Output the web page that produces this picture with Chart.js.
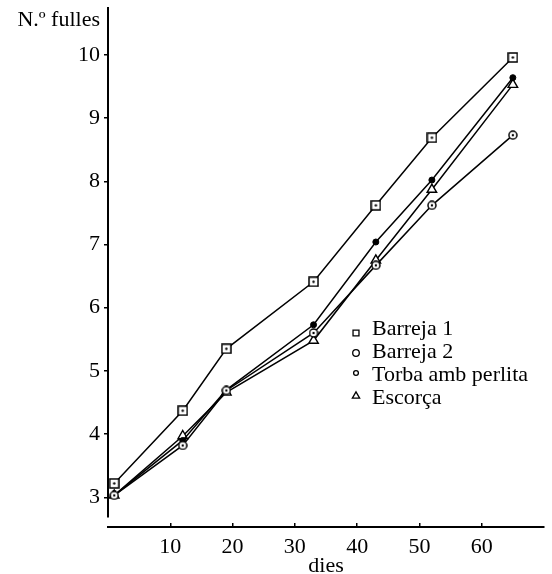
<!DOCTYPE html>
<html>
<head>
<meta charset="utf-8">
<script src="https://cdn.jsdelivr.net/npm/chart.js@4/dist/chart.umd.min.js"></script>
<style>
  html, body { margin: 0; padding: 0; background: #ffffff; }
  #wrap { width: 552px; height: 574px; position: relative; }
</style>
</head>
<body>
<div id="wrap"><canvas id="c" width="552" height="574"></canvas></div>
<script>
// ---- data ----
const days = [1, 12, 19, 33, 43, 52, 65];
const barreja1 = [3.22, 4.37, 5.35, 6.41, 7.62, 8.69, 9.96];
const barreja2 = [3.03, 3.82, 4.69, 5.60, 6.67, 7.62, 8.73];
const torba    = [3.03, 3.90, 4.70, 5.73, 7.04, 8.02, 9.64];
const escorca  = [3.03, 3.97, 4.66, 5.48, 6.75, 7.87, 9.53];
const seriesNames = ['Barreja 1', 'Barreja 2', 'Torba amb perlita', 'Escorça'];
const yTicks = [3, 4, 5, 6, 7, 8, 9, 10];
const xTicks = [10, 20, 30, 40, 50, 60];
const yTitle = 'N.º fulles';
const xTitle = 'dies';
const yAxisStart = 2.68;   // value where the printed vertical axis line stops

const FONT = "'Liberation Serif', 'DejaVu Serif', serif";
const FS = 22;

// marker glyphs (square / circle with a centre dot)
function markerCanvas(kind, size) {
  const c = document.createElement('canvas');
  c.width = size; c.height = size;
  const g = c.getContext('2d');
  g.fillStyle = '#fff'; g.strokeStyle = '#000'; g.lineWidth = 1.5;
  const m = size / 2;
  if (kind === 'square') {
    g.fillRect(1, 1, size - 2, size - 2);
    g.strokeRect(1, 1, size - 2, size - 2);
  } else {
    g.beginPath(); g.arc(m, m, m - 1, 0, Math.PI * 2); g.fill(); g.stroke();
  }
  g.fillStyle = '#000';
  g.beginPath(); g.arc(m, m, 1.2, 0, Math.PI * 2); g.fill();
  return c;
}
const sqMarker = markerCanvas('square', 11);
const ciMarker = markerCanvas('circle', 10);

function pts(vals) { return days.map((d, i) => ({ x: d, y: vals[i] })); }

const common = { borderColor: '#000', borderWidth: 1.5, tension: 0, fill: false };

const datasets = [
  Object.assign({ label: seriesNames[0], data: pts(barreja1), pointStyle: sqMarker, pointRadius: 5 }, common),
  Object.assign({ label: seriesNames[1], data: pts(barreja2), pointStyle: ciMarker, pointRadius: 5 }, common),
  Object.assign({ label: seriesNames[2], data: pts(torba), pointStyle: 'circle', pointRadius: 3,
                  pointBackgroundColor: '#000', pointBorderColor: '#000', pointBorderWidth: 1 }, common),
  Object.assign({ label: seriesNames[3], data: pts(escorca), pointStyle: 'triangle', pointRadius: 5.5,
                  pointBackgroundColor: '#fff', pointBorderColor: '#000', pointBorderWidth: 1.4 }, common)
];

// vertical axis line, axis caption and in-plot legend, like the printed figure
const annotations = {
  id: 'annotations',
  afterDraw(chart) {
    const ctx = chart.ctx;
    const ys = chart.scales.y;
    ctx.save();
    // vertical axis line (stops short of the horizontal axis)
    ctx.strokeStyle = '#000';
    ctx.lineWidth = 2;
    ctx.beginPath();
    ctx.moveTo(ys.right, ys.top);
    ctx.lineTo(ys.right, ys.getPixelForValue(yAxisStart));
    ctx.stroke();

    ctx.fillStyle = '#000';
    ctx.font = FS + 'px ' + FONT;
    ctx.textAlign = 'right';
    ctx.textBaseline = 'alphabetic';
    ctx.fillText(yTitle, ys.right - 8, 26);

    // legend
    const lx = 356, tx = 372, y0 = 329, dy = 23;
    const styles = [
      { pointStyle: 'rect', radius: 4.2 },
      { pointStyle: 'circle', radius: 3.3 },
      { pointStyle: 'circle', radius: 2.4 },
      { pointStyle: 'triangle', radius: 4.2 }
    ];
    const offs = [4, 1, -2, -2];
    seriesNames.forEach((name, i) => {
      const y = y0 + i * dy;
      ctx.fillStyle = '#000';
      ctx.textAlign = 'left';
      ctx.textBaseline = 'middle';
      ctx.font = FS + 'px ' + FONT;
      ctx.fillText(name, tx, y);
      ctx.fillStyle = '#fff';
      ctx.strokeStyle = '#000';
      ctx.lineWidth = 1.3;
      if (Chart.helpers && Chart.helpers.drawPoint) {
        Chart.helpers.drawPoint(ctx, { pointStyle: styles[i].pointStyle, radius: styles[i].radius,
          rotation: 0, borderWidth: 1.3 }, lx, y + offs[i]);
      }
    });
    ctx.restore();
  }
};

new Chart(document.getElementById('c'), {
  type: 'line',
  data: { datasets },
  options: {
    responsive: false,
    animation: false,
    events: [],
    layout: { padding: { left: 0, right: 8, top: 5, bottom: 0 } },
    plugins: { legend: { display: false }, tooltip: { enabled: false }, title: { display: false } },
    scales: {
      x: {
        type: 'linear',
        min: 0, max: 70,
        position: 'bottom',
        afterBuildTicks: (s) => { s.ticks = xTicks.map(v => ({ value: v })); },
        afterFit: (s) => { s.height = 47; s.paddingLeft = 0; s.paddingRight = 0; },
        border: { display: true, color: '#000', width: 2 },
        grid: { display: true, drawOnChartArea: false, color: '#000', lineWidth: 1.5, tickLength: -4 },
        ticks: { color: '#000', font: { family: FONT, size: FS }, padding: 11, maxRotation: 0 },
        title: { display: true, text: xTitle, color: '#000', font: { family: FONT, size: FS }, padding: { top: 0, bottom: -5 } }
      },
      y: {
        type: 'linear',
        min: 2.53, max: 10.76,
        afterBuildTicks: (s) => { s.ticks = yTicks.map(v => ({ value: v })); },
        afterFit: (s) => { s.width = 108; s.paddingTop = 0; s.paddingBottom = 0; },
        border: { display: false },
        grid: { display: true, drawOnChartArea: false, color: '#000', lineWidth: 1.5, tickLength: 4 },
        ticks: { color: '#000', font: { family: FONT, size: FS }, padding: 4 }
      }
    }
  },
  plugins: [annotations]
});
</script>
</body>
</html>
